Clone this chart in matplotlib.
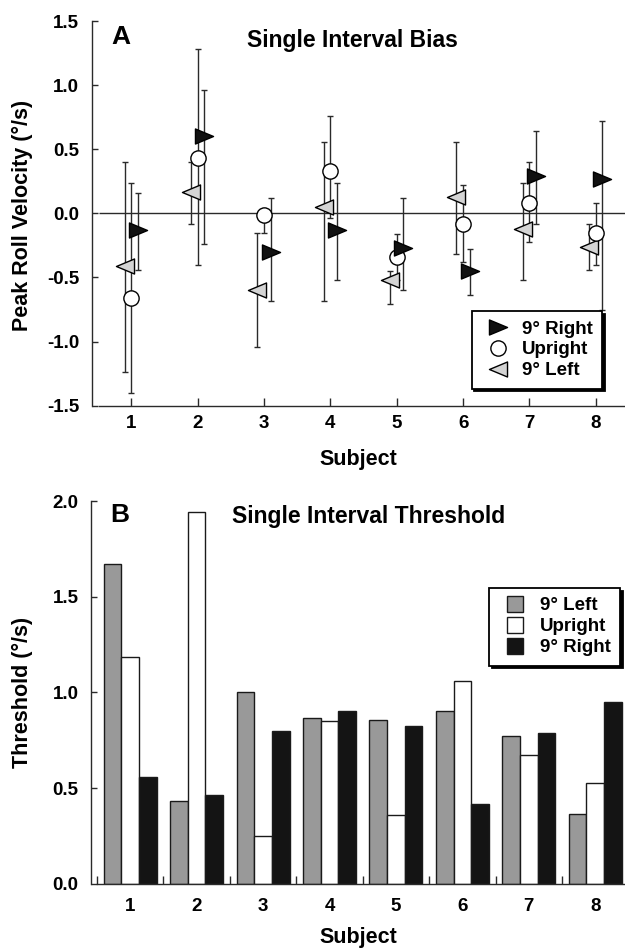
import numpy as np
import matplotlib.pyplot as plt
from matplotlib.lines import Line2D
from matplotlib.path import Path

plt.rcParams['font.family'] = ['Liberation Sans', 'DejaVu Sans']
plt.rcParams['font.weight'] = 'bold'

subjects = np.arange(1, 9)

# panel A: bias (value, lower end, upper end of error bar)
right_val = [-0.13, 0.60, -0.30, -0.13, -0.27, -0.45, 0.29, 0.27]
right_lo = [-0.44, -0.24, -0.68, -0.52, -0.60, -0.64, -0.08, -0.75]
right_hi = [0.16, 0.96, 0.12, 0.24, 0.12, -0.28, 0.64, 0.72]

up_val = [-0.66, 0.43, -0.01, 0.33, -0.34, -0.08, 0.08, -0.15]
up_lo = [-1.40, -0.40, -0.155, -0.04, -0.52, -0.38, -0.225, -0.40]
up_hi = [0.24, 1.28, 0.03, 0.76, -0.16, 0.22, 0.40, 0.08]

left_val = [-0.41, 0.17, -0.60, 0.05, -0.52, 0.13, -0.12, -0.26]
left_lo = [-1.24, -0.08, -1.04, -0.68, -0.71, -0.32, -0.52, -0.44]
left_hi = [0.40, 0.40, -0.155, 0.56, -0.45, 0.56, 0.24, -0.08]

# panel B: thresholds
left_thr = [1.67, 0.43, 1.00, 0.865, 0.855, 0.90, 0.77, 0.365]
up_thr = [1.185, 1.945, 0.25, 0.85, 0.36, 1.06, 0.675, 0.525]
right_thr = [0.56, 0.465, 0.80, 0.905, 0.825, 0.415, 0.79, 0.95]

W, H = 625, 948
fig = plt.figure(figsize=(W / 100, H / 100), dpi=100)

def px(x0, y_top, x1, y_bot):
    return [x0 / W, 1 - y_bot / H, (x1 - x0) / W, (y_bot - y_top) / H]

# slightly elongated triangles like the original
tri_r = Path([(-1.2, -1), (1.2, 0), (-1.2, 1), (-1.2, -1)], closed=True)
tri_l = Path([(1.2, -1), (-1.2, 0), (1.2, 1), (1.2, -1)], closed=True)

axcol = '#2a2a2a'
gray_l = '#d4d4d4'
fs_tick = 13.5
fs_lab = 15.5
fs_title = 16.5
fs_leg = 13.5

# ---------------- panel A
ax = fig.add_axes(px(91.5, 21, 625, 405.7))
ax.set_xlim(0.4, 8.44)
ax.set_ylim(-1.5, 1.5)
ax.hlines(0, 0.52, 8.44, color=axcol, lw=1, zorder=1)

series = [(left_val, left_lo, left_hi, -0.1, tri_l, 13, gray_l),
          (up_val, up_lo, up_hi, 0.0, 'o', 11, 'white'),
          (right_val, right_lo, right_hi, 0.1, tri_r, 13, '#111111')]
for val, lo, hi, off, mk, size, fc in series:
    val = np.array(val)
    err = [val - np.array(lo), np.array(hi) - val]
    ax.errorbar(subjects + off, val, yerr=err, fmt='none', ecolor=axcol,
                elinewidth=1, capsize=2.5, capthick=1, zorder=2)
    ax.plot(subjects + off, val, marker=mk, ms=size, mfc=fc, mec='black',
            mew=1, ls='none', zorder=3)

for s in ['top', 'right']:
    ax.spines[s].set_visible(False)
ax.spines['left'].set_bounds(-1.5, 1.5)
ax.spines['bottom'].set_bounds(0.52, 8.44)
for s in ['left', 'bottom']:
    ax.spines[s].set_color(axcol)
    ax.spines[s].set_linewidth(1)
yt = [-1.5, -1.0, -0.5, 0.0, 0.5, 1.0, 1.5]
ax.set_yticks(yt)
ax.set_yticklabels([f'{v:.1f}' for v in yt])
ax.set_xticks(subjects)
ax.set_xticklabels([str(s) for s in subjects])
ax.tick_params(axis='y', direction='in', length=4, width=1, color=axcol,
               pad=9, labelsize=fs_tick)
ax.tick_params(axis='x', direction='in', length=6, width=1, color=axcol,
               pad=7, labelsize=fs_tick)

hA = [Line2D([], [], marker=tri_r, ms=13, mfc='#111111', mec='black', ls='none'),
      Line2D([], [], marker='o', ms=11, mfc='white', mec='black', ls='none'),
      Line2D([], [], marker=tri_l, ms=13, mfc=gray_l, mec='black', ls='none')]
legA = ax.legend(hA, ['9° Right', 'Upright', '9° Left'], loc='upper left',
                 bbox_to_anchor=(471.5 / W, 1 - 311 / H),
                 bbox_transform=fig.transFigure, borderaxespad=0,
                 fancybox=False, edgecolor='black', framealpha=1,
                 shadow={'color': 'black', 'alpha': 1, 'ox': 2, 'oy': -2},
                 prop={'size': fs_leg, 'weight': 'bold'}, labelspacing=0.2,
                 handlelength=1.8, handletextpad=0.4, borderpad=0.5)
legA.get_frame().set_linewidth(1.3)

fig.text(120.5 / W, 1 - 36.5 / H, 'A', fontsize=19, ha='center', va='center')
fig.text(352.5 / W, 1 - 41 / H, 'Single Interval Bias', fontsize=fs_title,
         ha='center', va='center')
fig.text(22 / W, 1 - 215 / H, 'Peak Roll Velocity (°/s)', fontsize=fs_lab,
         rotation=90, ha='center', va='center')
fig.text(358 / W, 1 - 459 / H, 'Subject', fontsize=fs_lab, ha='center',
         va='center')

# ---------------- panel B
bx = fig.add_axes(px(91, 501, 625, 883.7))
bx.set_xlim(0.411, 8.447)
bx.set_ylim(0, 2.0)
bw = 0.266
bx.bar(subjects - bw, left_thr, bw, color='#999999', edgecolor='#1a1a1a', lw=1)
bx.bar(subjects, up_thr, bw, color='white', edgecolor='#1a1a1a', lw=1)
bx.bar(subjects + bw, right_thr, bw, color='#141414', edgecolor='#1a1a1a', lw=1)

for s in ['top', 'right']:
    bx.spines[s].set_visible(False)
bx.spines['left'].set_bounds(0, 2.0)
bx.spines['bottom'].set_bounds(0.5, 8.447)
for s in ['left', 'bottom']:
    bx.spines[s].set_color(axcol)
    bx.spines[s].set_linewidth(1)
ybt = [0.0, 0.5, 1.0, 1.5, 2.0]
bx.set_yticks(ybt)
bx.set_yticklabels([f'{v:.1f}' for v in ybt])
bx.set_xticks(subjects)
bx.set_xticklabels([str(s) for s in subjects])
bx.set_xticks(np.arange(0.5, 8.0, 1.0), minor=True)
bx.tick_params(axis='y', direction='in', length=4, width=1, color=axcol,
               pad=9, labelsize=fs_tick)
bx.tick_params(axis='x', which='major', length=0, pad=10, labelsize=fs_tick)
bx.tick_params(axis='x', which='minor', direction='in', length=6, width=1,
               color=axcol)

hB = [Line2D([], [], marker='s', ms=12.2, mfc='#999999', mec='#1a1a1a', ls='none'),
      Line2D([], [], marker='s', ms=12.2, mfc='white', mec='#1a1a1a', ls='none'),
      Line2D([], [], marker='s', ms=12.2, mfc='#141414', mec='#1a1a1a', ls='none')]
legB = bx.legend(hB, ['9° Left', 'Upright', '9° Right'], loc='upper left',
                 bbox_to_anchor=(489 / W, 1 - 588 / H),
                 bbox_transform=fig.transFigure, borderaxespad=0,
                 fancybox=False, edgecolor='black', framealpha=1,
                 shadow={'color': 'black', 'alpha': 1, 'ox': 2, 'oy': -2},
                 prop={'size': fs_leg, 'weight': 'bold'}, labelspacing=0.2,
                 handlelength=1.8, handletextpad=0.4, borderpad=0.5)
legB.get_frame().set_linewidth(1.3)

fig.text(120 / W, 1 - 515 / H, 'B', fontsize=19, ha='center', va='center')
fig.text(368.7 / W, 1 - 517 / H, 'Single Interval Threshold', fontsize=fs_title,
         ha='center', va='center')
fig.text(22 / W, 1 - 692 / H, 'Threshold (°/s)', fontsize=fs_lab,
         rotation=90, ha='center', va='center')
fig.text(358 / W, 1 - 937 / H, 'Subject', fontsize=fs_lab, ha='center',
         va='center')

fig.savefig('out.png', dpi=100)
